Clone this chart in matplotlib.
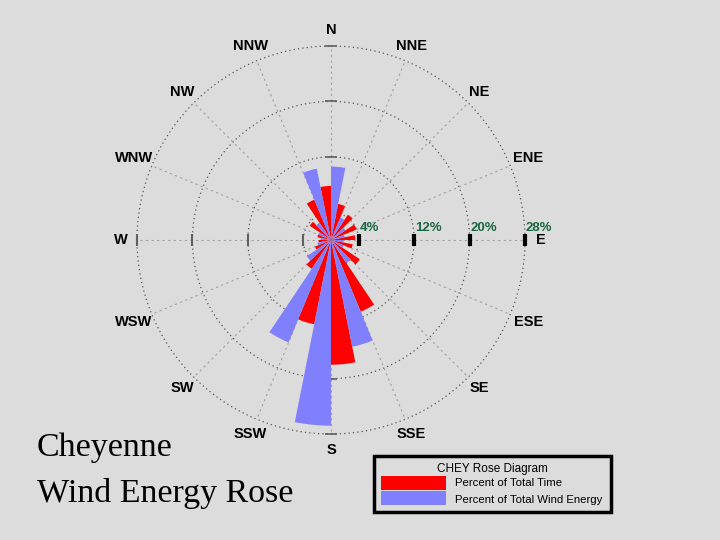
import numpy as np
import matplotlib.pyplot as plt
from matplotlib.patches import Rectangle

# 16 compass directions, clockwise from north
directions = ["N", "NNE", "NE", "ENE", "E", "ESE", "SE", "SSE",
              "S", "SSW", "SW", "WSW", "W", "WNW", "NW", "NNW"]
# percent of total time (red) and percent of total wind energy (blue)
pct_time = [7.8, 5.3, 4.4, 4.0, 3.5, 3.2, 5.0, 11.2,
            18.0, 12.4, 5.0, 2.5, 1.8, 2.0, 3.7, 6.3]
pct_energy = [10.6, 3.5, 2.5, 2.0, 1.8, 2.0, 4.0, 15.7,
              26.8, 16.0, 4.2, 2.0, 1.5, 2.0, 3.0, 10.5]
ring_values = [4, 12, 20, 28]
ring_labels = ["4%", "12%", "20%", "28%"]

W, H = 720, 540
bg = "#dcdcdc"


def fx(x):
    return x / W


def fy(y):
    return 1 - y / H


fig = plt.figure(figsize=(7.2, 5.4), dpi=100, facecolor=bg)
ax = fig.add_axes([fx(137), fy(434), 388 / W, 388 / H], projection="polar")
ax.set_theta_zero_location("N")
ax.set_theta_direction(-1)
ax.set_ylim(0, 28)
ax.set_facecolor("none")
ax.grid(False)
ax.set_xticks([])
ax.set_yticks([])
ax.spines["polar"].set_visible(False)

sector = 2 * np.pi / len(directions)
centers = np.arange(len(directions)) * sector
half = sector / 2

# grid: dotted rings and spokes
theta = np.linspace(0, 2 * np.pi, 721)
for r in ring_values:
    ax.plot(theta, np.full_like(theta, r), color="#555555", lw=0.9,
            ls=(0, (1, 2.5)), zorder=1, clip_on=False)
for c in centers:
    ax.plot([c, c], [0, 28], color="#a0a0a0", lw=0.8, ls=(0, (2, 3)),
            zorder=1, clip_on=False)

# bars: red on the counter-clockwise half, blue on the clockwise half
ax.bar(centers - half, pct_time, width=half, align="edge",
       color="#ff0000", linewidth=0, zorder=3)
ax.bar(centers, pct_energy, width=half, align="edge",
       color="#8080ff", linewidth=0, zorder=3)

# direction labels (the wide near-horizontal ones sit a bit further out)
for c, name in zip(centers, directions):
    rr = 30.8 if name in ("ENE", "ESE", "WSW", "WNW") else 30.3
    ax.text(c, rr, name, ha="center", va="center", fontsize=10.5,
            fontweight="bold", family="Liberation Sans", color="black")

# ring ticks and labels
east = np.pi / 2
for r, lab in zip(ring_values, ring_labels):
    ax.plot([east], [r], marker="|", ms=9, mew=3, color="black",
            clip_on=False, zorder=4)
    for t in (0, np.pi):
        ax.plot([t], [r], marker="_", ms=8, mew=1.2, color="#606060",
                clip_on=False, zorder=2)
    ax.plot([3 * np.pi / 2], [r], marker="|", ms=8, mew=1.5,
            color="#606060", clip_on=False, zorder=2)
    ax.annotate(lab, (east, r), xytext=(1, 12), textcoords="offset pixels",
                ha="left", va="center", color="#1a6640", fontsize=9.5,
                fontweight="bold", family="Liberation Sans")

# title
fig.text(fx(37), fy(456), "Cheyenne", family="Liberation Serif",
         fontsize=24.5, va="baseline", ha="left")
fig.text(fx(37), fy(502), "Wind Energy Rose", family="Liberation Serif",
         fontsize=24.5, va="baseline", ha="left")

# legend box
fig.add_artist(Rectangle((fx(374), fy(512)), 237 / W, 56 / H,
                         transform=fig.transFigure, facecolor=bg,
                         edgecolor="black", lw=2.5))
fig.add_artist(Rectangle((fx(381), fy(490)), 65 / W, 14 / H,
                         transform=fig.transFigure, facecolor="#ff0000",
                         edgecolor="none"))
fig.add_artist(Rectangle((fx(381), fy(505)), 65 / W, 14 / H,
                         transform=fig.transFigure, facecolor="#8080ff",
                         edgecolor="none"))
fig.text(fx(492), fy(469), "CHEY Rose Diagram", family="Liberation Sans",
         fontsize=8.5, ha="center", va="center")
fig.text(fx(455), fy(483), "Percent of Total Time", family="Liberation Sans",
         fontsize=8.2, ha="left", va="center")
fig.text(fx(455), fy(500), "Percent of Total Wind Energy",
         family="Liberation Sans", fontsize=8.2, ha="left", va="center")

plt.savefig("out.png", dpi=100, facecolor=bg)
